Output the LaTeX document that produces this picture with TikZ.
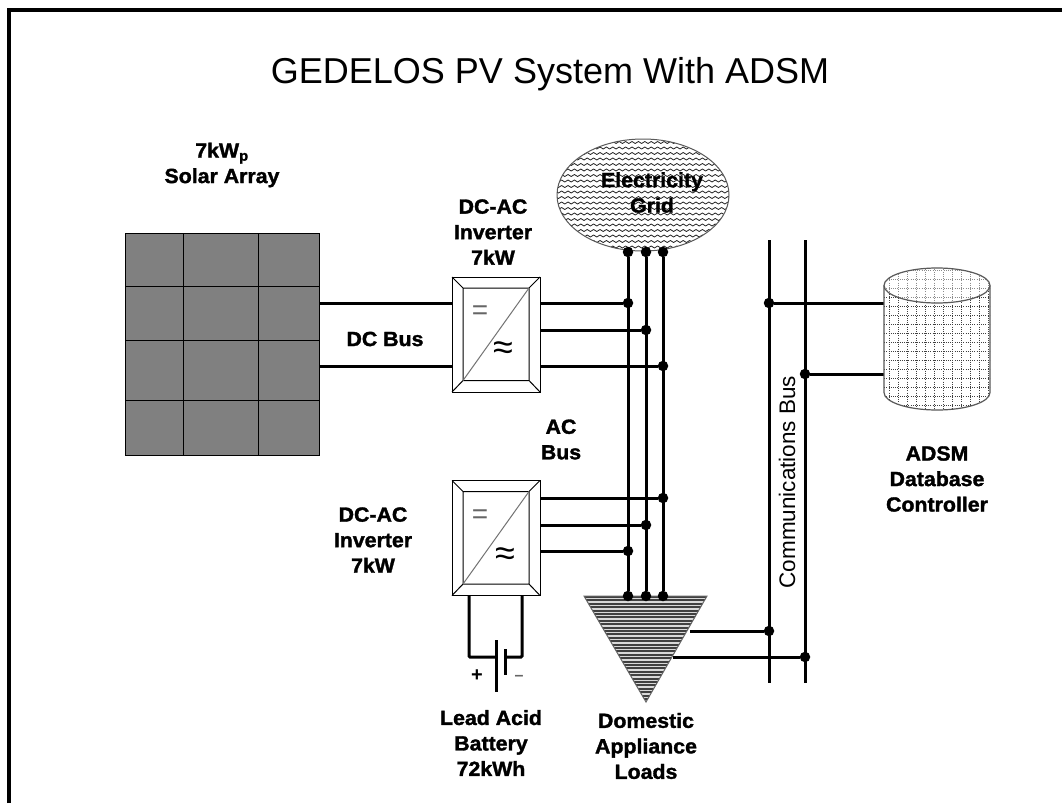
\documentclass[tikz,border=0pt]{standalone}
\usepackage{fontspec}
\setmainfont{Liberation Sans}
\newfontfamily\labfont{Liberation Sans}[BoldFeatures={FakeBold=1.6,FakeStretch=1.04}]
\usetikzlibrary{calc,shapes.geometric}
\tikzset{
  wire/.style={line width=3pt,black},
  thinl/.style={line width=1pt,black},
  conn/.style={circle,fill=black,inner sep=0pt,minimum size=10.5pt},
  lab/.style={font=\labfont\bfseries\fontsize{20.5}{25.5}\selectfont,align=center,inner sep=0pt},
  invbox/.style={draw=black,line width=1pt,fill=white,minimum width=88pt,minimum height=115pt,inner sep=0pt},
  symb/.style={font=\fontsize{28}{28}\selectfont,inner sep=0pt,text=black!60},
  symbb/.style={font=\fontsize{36}{36}\selectfont,inner sep=0pt,text=black}
}
\newcommand{\inverter}[3]{%
  \node[invbox] (#1) at (#2,#3) {};
  \draw[thinl] (#2-44,#3-57.5)--(#2-33,#3-46.5) (#2+44,#3-57.5)--(#2+33,#3-46.5)
    (#2-44,#3+57.5)--(#2-33,#3+46) (#2+44,#3+57.5)--(#2+33,#3+46)
    (#2-33,#3-46.5) rectangle (#2+33,#3+46);
  \draw[line width=1pt,black!55] (#2-33,#3+46)--(#2+33,#3-46.5);
}
\begin{document}
\begin{tikzpicture}[x=1pt,y=-1pt]
\useasboundingbox (0,0) rectangle (1062,803);
\fill[white] (0,0) rectangle (1062,803);
% frame
\draw[line width=4.5pt,black] (9,803) -- (9,10) -- (1062,10);
% title
\node[font=\fontsize{36}{40}\selectfont,inner sep=0pt] (title) at (550,74) {GEDELOS PV System With ADSM};
% solar array
\node[draw=black,fill=black!50,line width=1pt,minimum width=194pt,minimum height=222pt,inner sep=0pt] (solar) at (222,344) {};
\draw[thinl] (183,233)--(183,455) (258,233)--(258,455) (125,286)--(319,286) (125,340)--(319,340) (125,400)--(319,400);
\node[lab] (solarlab) at (222,165) {7kW\textsubscript{p}\\Solar Array};
% electricity grid
\begin{scope}
\clip (643,195) ellipse [x radius=86,y radius=56];
\fill[white] (550,130) rectangle (740,260);
\foreach \yy in {138,143.5,...,254}{
  \draw[line width=0.8pt,black!85] (552,\yy) \foreach \xx in {0,...,29}{ -- ++(3.2,-2) -- ++(3.2,2)};
}
\end{scope}
\draw[line width=1pt,black!65] (643,195) ellipse [x radius=86,y radius=56];
\node[lab] (gridlab) at (652,192.5) {Electricity\\Grid};
% inverters
\inverter{inv1}{496}{334.5}
\inverter{inv2}{496}{538}
\node[symb] (eq1) at (480,313) {=};
\node[symbb] (ap1) at (503,351) {≈};
\node[symb] (eq2) at (480,517) {=};
\node[symbb] (ap2) at (505,557) {≈};
\node[lab] (inv1lab) at (493,232) {DC-AC\\Inverter\\7kW};
\node[lab] (inv2lab) at (373,540) {DC-AC\\Inverter\\7kW};
% load triangle
\begin{scope}
\clip (584,596) -- (707,596) -- (646,702) -- cycle;
\fill[black!15] (580,590) rectangle (710,705);
\foreach \yy in {597,600.4,...,704}{ \draw[line width=1.9pt,black!75] (580,\yy) -- (710,\yy); }
\end{scope}
\draw[line width=1pt,black!60] (584,596) -- (707,596) -- (646,702) -- cycle;
% AC bus
\node[conn] (g1) at (628,252) {}; \node[conn] (g2) at (646,252) {}; \node[conn] (g3) at (663,252) {};
\node[conn] (l1) at (628,596) {}; \node[conn] (l2) at (646,596) {}; \node[conn] (l3) at (663,596) {};
\draw[wire] (g1)--(l1); \draw[wire] (g2)--(l2); \draw[wire] (g3)--(l3);
\node[conn] (a1) at (628,303) {}; \node[conn] (a2) at (646,330) {}; \node[conn] (a3) at (663,366) {};
\node[conn] (b1) at (663,498) {}; \node[conn] (b2) at (646,525) {}; \node[conn] (b3) at (628,551) {};
\draw[wire] (inv1.east |- a1)--(a1); \draw[wire] (inv1.east |- a2)--(a2); \draw[wire] (inv1.east |- a3)--(a3);
\draw[wire] (inv2.east |- b1)--(b1); \draw[wire] (inv2.east |- b2)--(b2); \draw[wire] (inv2.east |- b3)--(b3);
% DC bus
\draw[wire] (solar.east |- 0,303)--(inv1.west |- 0,303);
\draw[wire] (solar.east |- 0,366)--(inv1.west |- 0,366);
\node[lab] (dcbus) at (385,339) {DC Bus};
\node[lab] (acbus) at (561,439.5) {AC\\Bus};
% battery
\coordinate (p1) at (496,657); \coordinate (p2) at (505,657);
\draw[wire,rounded corners=1pt] (469,595.5)--(469,657)--(p1);
\draw[wire,rounded corners=1pt] (522,595.5)--(522,657)--(p2);
\draw[wire] (496,640)--(496,692);
\draw[wire] (505,649)--(505,675);
\node[font=\bfseries\fontsize{20}{20}\selectfont,inner sep=0pt] (plus) at (477,676) {+};
\node[font=\bfseries\fontsize{16}{16}\selectfont,inner sep=0pt,text=black!60] (minus) at (519,678) {–};
\node[lab] (batlab) at (491,743) {Lead Acid\\Battery\\72kWh};
\node[lab] (loadlab) at (646,746) {Domestic\\Appliance\\Loads};
% comms bus
\coordinate (c1t) at (769,240); \coordinate (c1b) at (769,683);
\coordinate (c2t) at (805,240); \coordinate (c2b) at (805,683);
\draw[wire] (c1t)--(c1b); \draw[wire] (c2t)--(c2b);
\node[conn] (d1) at (769,303) {}; \node[conn] (d2) at (805,374) {};
\node[conn] (e1) at (769,631) {}; \node[conn] (e2) at (805,657) {};
\coordinate (t1) at (690,631); \coordinate (t2) at (673,657);
\draw[wire] (t1)--(e1); \draw[wire] (t2)--(e2);
\node[font=\fontsize{22.5}{25}\selectfont,inner sep=0pt,rotate=90] (commlab) at (787,482) {Communications Bus};
% database
\coordinate (cy1) at (884,303); \coordinate (cy2) at (884,374);
\draw[wire] (d1)--(cy1); \draw[wire] (d2)--(cy2);
\begin{scope}
\clip (884,285.5) arc [start angle=180,end angle=360,x radius=53,y radius=17.5] -- (990,392.5) arc [start angle=0,end angle=180,x radius=53,y radius=17.5] -- cycle;
\fill[white] (880,260) rectangle (996,415);
\foreach \xx in {889,898,...,990}{ \draw[line width=0.9pt,black!75,dash pattern=on 1pt off 1.2pt] (\xx,265)--(\xx,412); }
\foreach \yy in {270,279,...,410}{ \draw[line width=0.9pt,black!75,dash pattern=on 1pt off 1.2pt] (882,\yy)--(994,\yy); }
\fill[white,opacity=0.4] (937,285.5) ellipse [x radius=53,y radius=17.5];
\end{scope}
\draw[line width=1.2pt,black!65] (937,285.5) ellipse [x radius=53,y radius=17.5];
\draw[line width=1.2pt,black!65] (884,285.5)--(884,392.5) arc [start angle=180,end angle=0,x radius=53,y radius=17.5]--(990,285.5);
\node[lab] (adsmlab) at (937,479) {ADSM\\Database\\Controller};
\end{tikzpicture}
\end{document}
